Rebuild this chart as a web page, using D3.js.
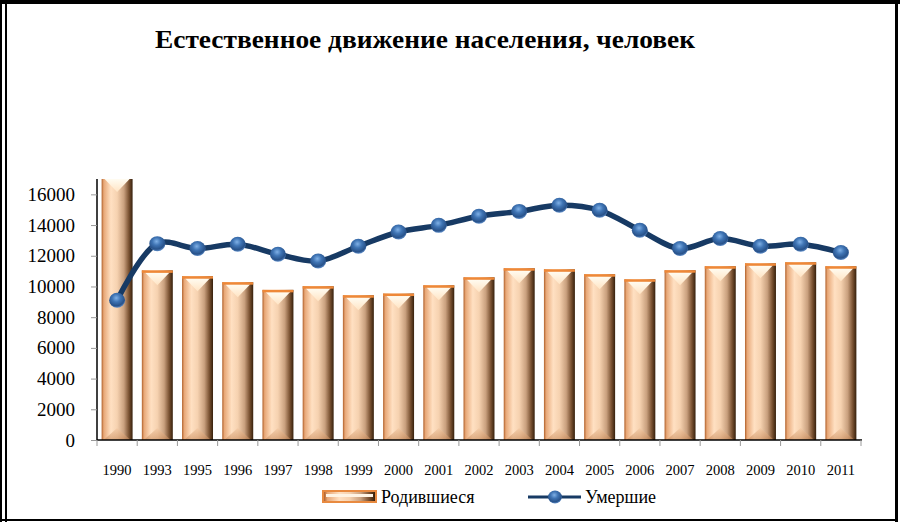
<!DOCTYPE html>
<meta charset="utf-8">
<body style="margin:0;background:#fff">
<script src="https://d3js.org/d3.v7.min.js"></script>
<div id="chart"></div>
<script>
// data (1990 births bar runs past the top of the axis)
var years = ["1990","1993","1995","1996","1997","1998","1999","2000","2001","2002",
             "2003","2004","2005","2006","2007","2008","2009","2010","2011"];
var births = [17500,11050,10670,10280,9780,10020,9430,9540,10080,10600,
              11190,11120,10800,10470,11060,11320,11510,11580,11320];
var deaths = [9100,12790,12470,12750,12100,11660,12620,13550,13980,14570,
              14890,15290,14960,13660,12470,13120,12620,12750,12210];
var yTicks = [0,2000,4000,6000,8000,10000,12000,14000,16000];
var seriesNames = ["Родившиеся", "Умершие"];
var title = "Естественное движение населения, человек";

var W = 900, H = 522;
var pLeft = 97, pRight = 861, pTop = 179, pBottom = 440;
var serif = "'Liberation Serif', 'Times New Roman', serif";

var svg = d3.select("#chart").append("svg")
    .attr("width", W).attr("height", H)
    .style("display", "block");

var defs = svg.append("defs");

// bar body gradient (left to right)
var gb = defs.append("linearGradient").attr("id", "barBody")
    .attr("x1", "0").attr("x2", "1").attr("y1", "0").attr("y2", "0");
[["0%", "#b0602a"], ["7%", "#e8a878"], ["30%", "#ffe0c2"], ["50%", "#f6d2b0"],
 ["72%", "#c9a07e"], ["88%", "#7a5232"], ["100%", "#36200c"]].forEach(function(s) {
  gb.append("stop").attr("offset", s[0]).attr("stop-color", s[1]);
});
// top bevel
var gt = defs.append("linearGradient").attr("id", "barTop")
    .attr("x1", "0").attr("x2", "0").attr("y1", "0").attr("y2", "1");
gt.append("stop").attr("offset", "0%").attr("stop-color", "#fffcf2");
gt.append("stop").attr("offset", "100%").attr("stop-color", "#ffe4c4");
// bottom bevel
var gbt = defs.append("linearGradient").attr("id", "barBot")
    .attr("x1", "0").attr("x2", "0").attr("y1", "0").attr("y2", "1");
gbt.append("stop").attr("offset", "0%").attr("stop-color", "#f2c8a2");
gbt.append("stop").attr("offset", "100%").attr("stop-color", "#c88a5a");
// sphere markers
var gs = defs.append("radialGradient").attr("id", "ball")
    .attr("cx", "45%").attr("cy", "35%").attr("r", "65%");
[["0%", "#7fb0e6"], ["40%", "#3f74b4"], ["80%", "#28528a"], ["100%", "#5d8cc8"]].forEach(function(s) {
  gs.append("stop").attr("offset", s[0]).attr("stop-color", s[1]);
});

// frame
svg.append("rect").attr("x", 0).attr("y", 0).attr("width", W).attr("height", 4).attr("fill", "#000");
svg.append("rect").attr("x", 0).attr("y", 0).attr("width", 2).attr("height", H).attr("fill", "#000");
svg.append("rect").attr("x", 5).attr("y", 0).attr("width", 2).attr("height", H).attr("fill", "#000");
svg.append("rect").attr("x", 895).attr("y", 0).attr("width", 3).attr("height", H).attr("fill", "#000");
svg.append("rect").attr("x", 0).attr("y", 519).attr("width", 898).attr("height", 2).attr("fill", "#000");

// title
svg.append("text")
    .attr("x", 425).attr("y", 48)
    .attr("text-anchor", "middle")
    .attr("textLength", 540).attr("lengthAdjust", "spacingAndGlyphs")
    .style("font-family", serif).style("font-weight", "bold").style("font-size", "26px")
    .text(title);

// scales
var x = d3.scaleBand().domain(years).range([pLeft, pRight])
    .paddingInner(0.23).paddingOuter(0.115);
var yMax = 17000;
var y = d3.scaleLinear().domain([0, yMax]).range([pBottom, pTop]);

// y axis
var yAxis = svg.append("g")
    .attr("transform", "translate(" + pLeft + ",0)")
    .attr("font-family", serif)
    .call(d3.axisLeft(y).tickValues(yTicks).tickSize(6).tickPadding(16).tickFormat(d3.format("d")));
yAxis.attr("font-family", serif).attr("font-size", 19);
yAxis.select(".domain").attr("stroke", "#000").attr("stroke-width", 1.5)
    .attr("d", "M0," + pTop + "V" + pBottom);
yAxis.selectAll(".tick line").attr("stroke", "#999");
yAxis.selectAll("text").style("font-family", serif).style("font-size", "19px").attr("fill", "#000");

// bars
var bw = x.bandwidth();
function barTop(i) { return y(Math.min(births[i], yMax)); }
var bars = svg.append("g").selectAll("g").data(years).enter().append("g");
bars.append("rect")
    .attr("x", function(d) { return x(d); })
    .attr("y", function(d, i) { return barTop(i); })
    .attr("width", bw)
    .attr("height", function(d, i) { return pBottom - barTop(i); })
    .attr("fill", "url(#barBody)");
bars.append("path")
    .attr("d", function(d) {
      var x0 = x(d), x1 = x0 + bw;
      return "M" + (x0 + 2) + "," + pBottom + "L" + (x0 + bw / 2) + "," + (pBottom - 12) + "L" + (x1 - 2) + "," + pBottom + "Z";
    })
    .attr("fill", "url(#barBot)").attr("opacity", 0.6);
bars.append("path")
    .attr("d", function(d, i) {
      var clipped = births[i] > yMax;
      var x0 = x(d), x1 = x0 + bw, yt = barTop(i) + (clipped ? 0 : 2);
      return "M" + (x0 + 3) + "," + yt + "L" + (x1 - 3) + "," + yt + "L" + (x0 + bw / 2) + "," + (yt + 13) + "Z";
    })
    .attr("fill", "url(#barTop)");
bars.filter(function(d, i) { return births[i] <= yMax; }).append("rect")
    .attr("x", function(d) { return x(d); })
    .attr("y", function(d) { return barTop(years.indexOf(d)); })
    .attr("width", bw).attr("height", 2.5)
    .attr("fill", "#ee8838");

// x axis line + band ticks
svg.append("line")
    .attr("x1", pLeft).attr("x2", pRight + 1).attr("y1", pBottom).attr("y2", pBottom)
    .attr("stroke", "#000").attr("stroke-width", 1.5);
var edges = years.map(function(d) { return x(d) - x.step() * x.paddingOuter(); });
edges.push(pRight);
svg.append("g").selectAll("line").data(edges).enter().append("line")
    .attr("x1", function(d) { return d; }).attr("x2", function(d) { return d; })
    .attr("y1", pBottom).attr("y2", pBottom + 6)
    .attr("stroke", "#999");
svg.append("g").selectAll("text").data(years).enter().append("text")
    .attr("x", function(d) { return x(d) + bw / 2; })
    .attr("y", 475)
    .attr("text-anchor", "middle")
    .style("font-family", serif).style("font-size", "14.5px")
    .text(function(d) { return d; });

// deaths line
var line = d3.line()
    .x(function(d, i) { return x(years[i]) + bw / 2; })
    .y(function(d) { return y(d); })
    .curve(d3.curveCatmullRom.alpha(0.5));
svg.append("path")
    .datum(deaths)
    .attr("d", line)
    .attr("fill", "none")
    .attr("stroke", "#173a64")
    .attr("stroke-width", 5.5)
    .attr("stroke-linejoin", "round");
svg.append("g").selectAll("ellipse").data(deaths).enter().append("ellipse")
    .attr("cx", function(d, i) { return x(years[i]) + bw / 2; })
    .attr("cy", function(d) { return y(d); })
    .attr("rx", 8).attr("ry", 7.5)
    .attr("fill", "url(#ball)");

// legend
var lg = svg.append("g");
lg.append("rect").attr("x", 322).attr("y", 490).attr("width", 55).attr("height", 13).attr("fill", "#e88a40");
lg.append("rect").attr("x", 324).attr("y", 492).attr("width", 51).attr("height", 9).attr("fill", "url(#barBody)");
lg.append("rect").attr("x", 326).attr("y", 494).attr("width", 47).attr("height", 3).attr("fill", "#fff4e4");
lg.append("text").attr("x", 381).attr("y", 503)
    .style("font-family", serif).style("font-size", "18px").text(seriesNames[0]);
lg.append("line").attr("x1", 528).attr("x2", 581).attr("y1", 497).attr("y2", 497)
    .attr("stroke", "#173a64").attr("stroke-width", 3);
lg.append("ellipse").attr("cx", 555).attr("cy", 497).attr("rx", 7).attr("ry", 6.5).attr("fill", "url(#ball)");
lg.append("text").attr("x", 585).attr("y", 503)
    .style("font-family", serif).style("font-size", "18px").text(seriesNames[1]);
</script>
</body>
